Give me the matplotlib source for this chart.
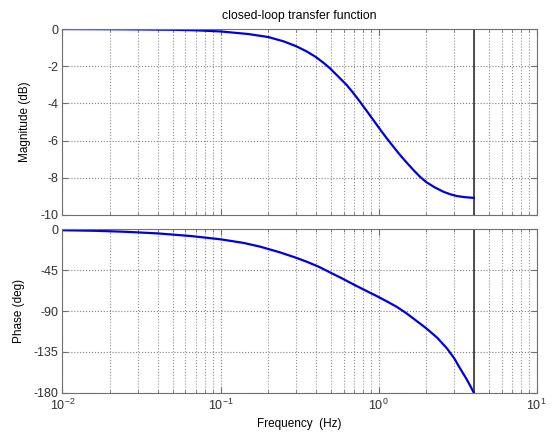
import numpy as np
import matplotlib
matplotlib.use("Agg")
import matplotlib.pyplot as plt
from matplotlib.ticker import LogLocator, NullFormatter

plt.rcParams['font.family'] = ['Liberation Sans', 'DejaVu Sans']
plt.rcParams['mathtext.fontset'] = 'custom'
plt.rcParams['mathtext.rm'] = 'Liberation Sans'
plt.rcParams['font.size'] = 8.5
plt.rcParams['axes.unicode_minus'] = False

# values
mag_freq = [0.01, 0.02, 0.03, 0.05, 0.07, 0.1, 0.15, 0.2, 0.25, 0.3, 0.35, 0.4,
            0.45, 0.492, 0.55, 0.628, 0.69, 0.762, 0.84, 0.925, 1.02, 1.124,
            1.24, 1.365, 1.5, 1.66, 1.82, 2.0, 2.25, 2.57, 2.85, 3.12, 3.5, 4.0]
mag_db = [0.0, -0.01, -0.02, -0.04, -0.07, -0.13, -0.27, -0.43, -0.66, -0.92,
          -1.20, -1.50, -1.83, -2.11, -2.52, -3.01, -3.43, -3.91, -4.40, -4.89,
          -5.39, -5.87, -6.33, -6.77, -7.17, -7.58, -7.93, -8.23, -8.50, -8.75,
          -8.89, -8.98, -9.04, -9.08]

ph_freq = [0.01, 0.016, 0.025, 0.04, 0.065, 0.1, 0.14, 0.177, 0.238, 0.3, 0.351,
           0.42, 0.492, 0.58, 0.692, 0.82, 0.972, 1.13, 1.3, 1.5, 1.74, 2.0,
           2.35, 2.7, 3.0, 3.27, 3.6, 3.85, 4.0]
ph_deg = [-1.0, -1.6, -2.7, -4.5, -7.4, -11.0, -15.0, -19.0, -25.4, -31.3, -35.7,
          -41.4, -47.4, -53.6, -60.6, -67.1, -73.5, -79.5, -85.3, -92.5, -101.0,
          -109.0, -119.5, -131.0, -141.8, -153.0, -165.0, -174.3, -180.0]

nyquist = 4.0
mag_ticks = [0, -2, -4, -6, -8, -10]
ph_ticks = [0, -45, -90, -135, -180]

fig = plt.figure(figsize=(5.55, 4.41), dpi=100)
ax1 = fig.add_axes([0.1126, 0.5125, 0.8544, 0.4217])
ax2 = fig.add_axes([0.1126, 0.1095, 0.8544, 0.3705])

blue = '#0000dd'
edge = '#707070'

for ax in (ax1, ax2):
    ax.set_xscale('log')
    ax.set_xlim(0.01, 10)
    ax.xaxis.set_major_locator(LogLocator(base=10))
    ax.xaxis.set_minor_locator(LogLocator(base=10, subs=np.arange(2, 10)))
    ax.xaxis.set_minor_formatter(NullFormatter())
    ax.grid(True, which='major', axis='both', color='#808080', linestyle=':', linewidth=0.8)
    ax.grid(True, which='minor', axis='x', color='#909090', linestyle=':', linewidth=0.8)
    ax.tick_params(which='both', direction='in', top=True, right=True,
                   colors=edge, labelcolor='#303030', labelsize=9, pad=3)
    ax.tick_params(which='major', length=4)
    ax.tick_params(which='minor', length=2.5)
    for s in ax.spines.values():
        s.set_color(edge)
    ax.axvline(nyquist, color='#404040', linewidth=1.3)

ax1.plot(mag_freq, mag_db, color=blue, linewidth=1.6)
ax1.set_ylim(-10, 0)
ax1.set_yticks(mag_ticks)
ax1.set_xticklabels([])
ax1.set_ylabel('Magnitude (dB)', labelpad=7)
ax1.set_title('closed-loop transfer function', fontsize=8.8, pad=7)

ax2.plot(ph_freq, ph_deg, color=blue, linewidth=1.6)
ax2.set_ylim(-180, 0)
ax2.set_yticks(ph_ticks)
ax2.set_ylabel('Phase (deg)', labelpad=6)
ax2.set_xlabel('Frequency  (Hz)', labelpad=3)
ax2.tick_params(axis='x', which='major', pad=4)

fig.savefig('out.png', dpi=100)
